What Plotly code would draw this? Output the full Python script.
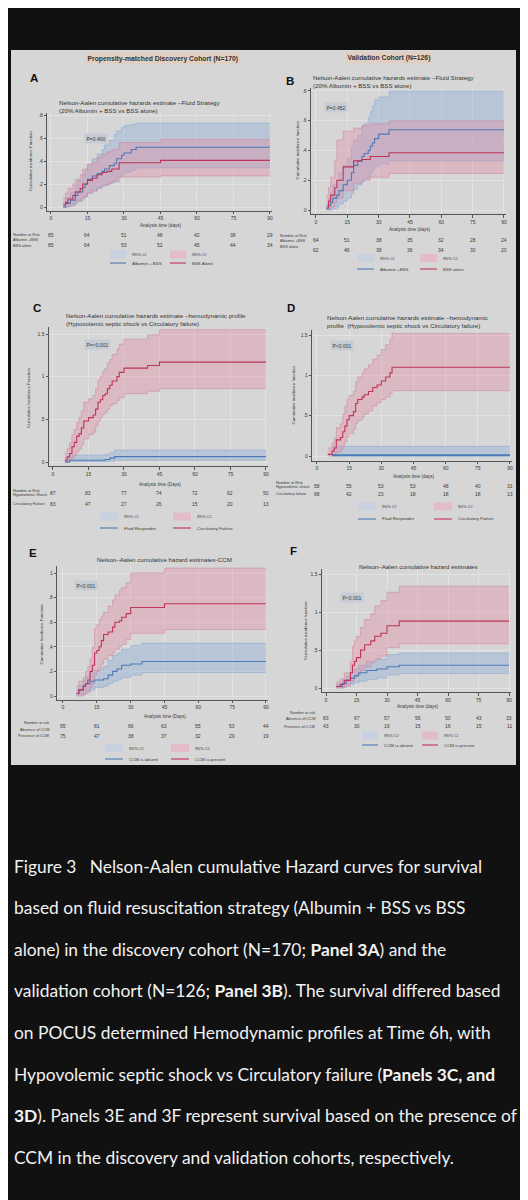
import plotly.graph_objects as go

# =============================================================================
# Canvas & style
# =============================================================================
W, H = 528, 1200
BG = "#111111"
PANEL = "#d6d6d6"
BLUE = "#4a7bb7"
RED = "#c0335a"
BLUE_BAND = "rgba(140,172,215,0.40)"
RED_BAND = "rgba(225,140,165,0.38)"
BLUE_EDGE = "rgba(120,160,210,0.75)"
RED_EDGE = "rgba(205,120,145,0.75)"
TXT = "#3a3a3a"
SANS = "Liberation Sans"

TIME_TICKS = [0, 15, 30, 45, 60, 75, 90]

# =============================================================================
# Data
# =============================================================================
# Panel A - discovery cohort, fluid strategy
a_blue_t = [5, 6, 8, 10, 11, 13, 14, 15, 17, 19, 21, 22, 24, 26, 27, 29, 30, 33, 35, 90]
a_blue_est = [0.0, 0.03, 0.06, 0.1, 0.13, 0.17, 0.2, 0.24, 0.27, 0.29, 0.31, 0.33, 0.36, 0.38, 0.42, 0.45, 0.47, 0.5, 0.52, 0.52]
a_blue_lo = [0.0, 0.0, 0.01, 0.03, 0.05, 0.07, 0.09, 0.12, 0.14, 0.16, 0.18, 0.19, 0.21, 0.23, 0.26, 0.28, 0.3, 0.32, 0.34, 0.34]
a_blue_hi = [0.04, 0.08, 0.13, 0.19, 0.23, 0.28, 0.32, 0.37, 0.42, 0.46, 0.5, 0.54, 0.58, 0.63, 0.66, 0.69, 0.71, 0.72, 0.73, 0.73]
a_red_t = [5, 6, 7, 9, 10, 12, 13, 15, 17, 19, 21, 23, 25, 28, 45, 90]
a_red_est = [0.02, 0.04, 0.07, 0.1, 0.13, 0.16, 0.2, 0.23, 0.25, 0.28, 0.3, 0.31, 0.33, 0.385, 0.405, 0.405]
a_red_lo = [0.0, 0.0, 0.01, 0.03, 0.05, 0.07, 0.09, 0.12, 0.14, 0.17, 0.19, 0.2, 0.22, 0.26, 0.27, 0.27]
a_red_hi = [0.08, 0.12, 0.16, 0.2, 0.24, 0.28, 0.33, 0.37, 0.39, 0.43, 0.46, 0.48, 0.5, 0.56, 0.59, 0.59]
a_risk_1 = [85, 64, 51, 48, 42, 38, 29]
a_risk_2 = [85, 64, 53, 52, 45, 44, 34]

# Panel B - validation cohort, fluid strategy
b_blue_t = [5, 6, 7, 8, 10, 11, 13, 15, 17, 18, 20, 22, 23, 25, 26, 27, 28, 30, 35, 90]
b_blue_est = [0.01, 0.03, 0.05, 0.08, 0.1, 0.13, 0.17, 0.2, 0.25, 0.3, 0.33, 0.36, 0.38, 0.4, 0.43, 0.45, 0.48, 0.51, 0.54, 0.54]
b_blue_lo = [0, 0, 0, 0.01, 0.02, 0.04, 0.06, 0.08, 0.11, 0.14, 0.17, 0.19, 0.21, 0.22, 0.25, 0.27, 0.29, 0.31, 0.33, 0.33]
b_blue_hi = [0.04, 0.08, 0.12, 0.17, 0.2, 0.25, 0.3, 0.35, 0.42, 0.47, 0.5, 0.56, 0.58, 0.62, 0.66, 0.7, 0.74, 0.76, 0.8, 0.8]
b_red_t = [5, 6, 7, 9, 10, 13, 18, 22, 26, 35, 90]
b_red_est = [0.02, 0.06, 0.1, 0.15, 0.2, 0.29, 0.33, 0.34, 0.36, 0.385, 0.385]
b_red_lo = [0, 0, 0.02, 0.05, 0.08, 0.13, 0.18, 0.2, 0.22, 0.245, 0.245]
b_red_hi = [0.1, 0.15, 0.22, 0.33, 0.47, 0.53, 0.55, 0.57, 0.58, 0.6, 0.6]
b_risk_1 = [64, 51, 38, 35, 32, 28, 24]
b_risk_2 = [62, 46, 38, 36, 34, 30, 20]

# Panel C - discovery cohort, hemodynamic profile
c_blue_t = [5, 7, 22, 24, 26, 90]
c_blue_est = [0.0, 0.02, 0.03, 0.045, 0.063, 0.063]
c_blue_lo = [0, 0.003, 0.005, 0.01, 0.02, 0.02]
c_blue_hi = [0.05, 0.08, 0.09, 0.11, 0.14, 0.14]
c_red_t = [5, 6, 7, 8, 9, 10, 11, 12, 13, 15, 17, 18, 19, 20, 21, 22, 23, 24, 25, 27, 28, 30, 40, 45, 90]
c_red_est = [0.02, 0.06, 0.1, 0.18, 0.23, 0.3, 0.33, 0.4, 0.48, 0.52, 0.55, 0.62, 0.7, 0.73, 0.78, 0.8, 0.86, 0.9, 0.95, 1.0, 1.05, 1.1, 1.13, 1.17, 1.17]
c_red_lo = [0, 0, 0.02, 0.05, 0.08, 0.12, 0.15, 0.2, 0.27, 0.32, 0.35, 0.42, 0.48, 0.52, 0.56, 0.58, 0.62, 0.66, 0.68, 0.72, 0.75, 0.8, 0.83, 0.86, 0.86]
c_red_hi = [0.1, 0.16, 0.22, 0.32, 0.38, 0.46, 0.52, 0.6, 0.7, 0.74, 0.78, 0.86, 0.96, 1.0, 1.06, 1.1, 1.16, 1.2, 1.26, 1.32, 1.38, 1.44, 1.49, 1.55, 1.55]
c_risk_1 = [87, 83, 77, 74, 72, 62, 50]
c_risk_2 = [83, 47, 27, 26, 15, 20, 13]

# Panel D - validation cohort, hemodynamic profile
d_blue_t = [7, 90]
d_blue_est = [0.01, 0.01]
d_blue_lo = [0.0, 0.0]
d_blue_hi = [0.12, 0.12]
d_red_t = [5, 7, 8, 9, 11, 12, 13, 14, 15, 17, 18, 19, 21, 22, 24, 26, 28, 30, 32, 34, 35, 90]
d_red_est = [0.02, 0.06, 0.1, 0.2, 0.23, 0.3, 0.37, 0.45, 0.5, 0.55, 0.65, 0.7, 0.73, 0.76, 0.8, 0.85, 0.88, 0.93, 0.98, 1.03, 1.1, 1.1]
d_red_lo = [0, 0, 0.02, 0.05, 0.08, 0.13, 0.18, 0.24, 0.28, 0.33, 0.4, 0.44, 0.48, 0.52, 0.56, 0.62, 0.66, 0.7, 0.73, 0.77, 0.81, 0.81]
d_red_hi = [0.1, 0.16, 0.22, 0.35, 0.4, 0.52, 0.62, 0.7, 0.75, 0.8, 0.92, 0.98, 1.03, 1.08, 1.13, 1.2, 1.25, 1.32, 1.38, 1.45, 1.52, 1.52]
d_risk_1 = [58, 55, 53, 53, 48, 40, 31]
d_risk_2 = [68, 42, 23, 18, 18, 18, 13]

# Panel E - discovery cohort, CCM
e_blue_t = [6, 7, 9, 10, 12, 14, 18, 20, 22, 24, 26, 30, 35, 90]
e_blue_est = [0.02, 0.05, 0.08, 0.1, 0.12, 0.13, 0.14, 0.17, 0.2, 0.22, 0.25, 0.26, 0.28, 0.28]
e_blue_lo = [0, 0.01, 0.02, 0.04, 0.05, 0.07, 0.08, 0.1, 0.12, 0.13, 0.15, 0.17, 0.19, 0.19]
e_blue_hi = [0.05, 0.09, 0.13, 0.16, 0.19, 0.21, 0.24, 0.29, 0.33, 0.35, 0.38, 0.41, 0.43, 0.43]
e_red_t = [6, 7, 9, 10, 11, 12, 13, 14, 15, 16, 17, 18, 20, 22, 23, 25, 26, 28, 30, 45, 90]
e_red_est = [0.02, 0.05, 0.08, 0.1, 0.13, 0.2, 0.25, 0.35, 0.37, 0.4, 0.45, 0.5, 0.52, 0.56, 0.6, 0.61, 0.64, 0.67, 0.72, 0.75, 0.75]
e_red_lo = [0, 0, 0.01, 0.02, 0.03, 0.07, 0.1, 0.17, 0.2, 0.22, 0.26, 0.3, 0.33, 0.35, 0.38, 0.4, 0.42, 0.46, 0.51, 0.54, 0.54]
e_red_hi = [0.08, 0.12, 0.15, 0.2, 0.24, 0.3, 0.4, 0.55, 0.58, 0.62, 0.65, 0.68, 0.73, 0.78, 0.82, 0.86, 0.88, 0.92, 1.0, 1.04, 1.04]
e_risk_1 = [95, 81, 66, 63, 55, 53, 44]
e_risk_2 = [75, 47, 38, 37, 32, 29, 19]

# Panel F - validation cohort, CCM
f_blue_t = [5, 8, 10, 12, 14, 16, 20, 25, 30, 36, 90]
f_blue_est = [0.02, 0.06, 0.1, 0.13, 0.16, 0.2, 0.23, 0.25, 0.28, 0.3, 0.3]
f_blue_lo = [0, 0.01, 0.04, 0.05, 0.07, 0.09, 0.11, 0.13, 0.17, 0.19, 0.19]
f_blue_hi = [0.05, 0.1, 0.15, 0.2, 0.25, 0.3, 0.35, 0.38, 0.44, 0.46, 0.46]
f_red_t = [5, 7, 9, 12, 13, 14, 15, 17, 19, 22, 24, 27, 30, 36, 90]
f_red_est = [0.02, 0.05, 0.1, 0.2, 0.3, 0.35, 0.4, 0.5, 0.57, 0.62, 0.68, 0.72, 0.82, 0.88, 0.88]
f_red_lo = [0, 0, 0.02, 0.07, 0.1, 0.13, 0.17, 0.23, 0.28, 0.33, 0.38, 0.42, 0.53, 0.58, 0.58]
f_red_hi = [0.08, 0.12, 0.2, 0.35, 0.55, 0.62, 0.68, 0.8, 0.9, 0.98, 1.08, 1.15, 1.26, 1.34, 1.34]
f_risk_1 = [83, 67, 57, 56, 50, 43, 33]
f_risk_2 = [43, 30, 19, 15, 16, 15, 11]

caption_lines = [
    "Figure 3   Nelson-Aalen cumulative Hazard curves for survival",
    "based on fluid resuscitation strategy (Albumin + BSS vs BSS",
    "alone) in the discovery cohort (N=170; <b>Panel 3A</b>) and the",
    "validation cohort (N=126; <b>Panel 3B</b>). The survival differed based",
    "on POCUS determined Hemodynamic profiles at Time 6h, with",
    "Hypovolemic septic shock vs Circulatory failure (<b>Panels 3C, and</b>",
    "<b>3D</b>). Panels 3E and 3F represent survival based on the presence of",
    "CCM in the discovery and validation cohorts, respectively.",
]

# =============================================================================
# Panel layout (pixel geometry of the screenshot)
# =============================================================================
panels = [
    dict(letter="A", blue=(a_blue_t, a_blue_est, a_blue_lo, a_blue_hi), red=(a_red_t, a_red_est, a_red_lo, a_red_hi),
         risk=(a_risk_1, a_risk_2), x0=43, x90=262, y0=199, ytop=107, vtop=0.8, xr=[-1.6, 91], yr=[-0.035, 0.82],
         yt=[0, .2, .4, .6, .8], ytl=["0", ".2", ".4", ".6", ".8"],
         lpos=(26, 70), title=["Nelson-Aalen cumulative hazards estimate \u2013Fluid Strategy", "(20% Albumin + BSS vs BSS alone)"],
         tpos=(49, 94, 9), tcenter=False, ytitle="Cumulative incidence Function", ytx=23,
         xtitle="Analysis time (days)", xty=218, ticky=211,
         rlab=["Number at Risk", "Albumin +BSS", "BSS alone"], rlx=3, rly=[226, 231, 237], rny=[226.7, 236.7],
         pval="P=0.400", ppos=(88, 130.5),
         leg=dict(x1=102, x2=162, w=16, yb=246.5, yl=255, ci="95% CI", n1="Albumin + BSS", n2="BSS Alone")),
    dict(letter="B", blue=(b_blue_t, b_blue_est, b_blue_lo, b_blue_hi), red=(b_red_t, b_red_est, b_red_lo, b_red_hi),
         risk=(b_risk_1, b_risk_2), x0=308, x90=496, y0=202, ytop=83, vtop=0.8, xr=[-2.4, 91], yr=[-0.03, 0.82],
         yt=[0, .2, .4, .6, .8], ytl=["0", ".2", ".4", ".6", ".8"],
         lpos=(282, 73), title=["Nelson-Aalen cumulative hazards estimate \u2013Fluid Strategy", "(20% Albumin + BSS vs BSS alone)"],
         tpos=(303, 69, 9), tcenter=False, ytitle="Cumulative incidence function", ytx=289,
         xtitle="Analysis time (days)", xty=221, ticky=213,
         rlab=["Number at Risk", "Albumin +BSS", "BSS alone"], rlx=270, rly=[227, 232, 238.5], rny=[231.7, 241.7],
         pval="P=0.452", ppos=(327.5, 99.5),
         leg=dict(x1=349, x2=412, w=17, yb=250, yl=261, ci="95% CI", n1="Albumin +BSS", n2="BSS alone")),
    dict(letter="C", blue=(c_blue_t, c_blue_est, c_blue_lo, c_blue_hi), red=(c_red_t, c_red_est, c_red_lo, c_red_hi),
         risk=(c_risk_1, c_risk_2), x0=45, x90=258, y0=454, ytop=326, vtop=1.5, xr=[-1.7, 91], yr=[-0.05, 1.58],
         yt=[0, .5, 1, 1.5], ytl=["0", ".5", "1", "1.5"],
         lpos=(29, 300), title=["Nelson-Aalen cumulative hazards estimate \u2013hemodynamic profile", "(Hypovolemic septic shock vs Circulatory failure)"],
         tpos=(56, 307, 9), tcenter=False, ytitle="Cumulative Incidence Function", ytx=21,
         xtitle="Analysis time (Days)", xty=476, ticky=468,
         rlab=["Number at Risk", "Hypovolemic Shock", "Circulatory Failure"], rlx=3, rly=[482.3, 486.7, 495.7], rny=[485, 495.7],
         pval="P=<0.001", ppos=(89, 337),
         leg=dict(x1=92, x2=165, w=18, yb=508.5, yl=520, ci="95% CI", n1="Fluid Responder", n2="Circulatory Failure")),
    dict(letter="D", blue=(d_blue_t, d_blue_est, d_blue_lo, d_blue_hi), red=(d_red_t, d_red_est, d_red_lo, d_red_hi),
         risk=(d_risk_1, d_risk_2), x0=309, x90=502, y0=448, ytop=327, vtop=1.5, xr=[-2.3, 91], yr=[-0.058, 1.56],
         yt=[0, .5, 1, 1.5], ytl=["0", ".5", "1", "1.5"],
         lpos=(283, 300), title=["Nelson-Aalen cumulative hazards estimate \u2013hemodynamic", "profile  (Hypovolemic septic shock vs Circulatory failure)"],
         tpos=(317, 309, 8.5), tcenter=False, ytitle="Cumulative incidence function", ytx=285,
         xtitle="Analysis time (days)", xty=468, ticky=459,
         rlab=["Number at Risk", "Hypovolemic shock", "Circulatory failure"], rlx=266, rly=[474.3, 478, 485.7], rny=[477.7, 485.7],
         pval="P<0.001", ppos=(334, 337.5),
         leg=dict(x1=350, x2=426, w=18, yb=498.5, yl=511, ci="90% CI", n1="Fluid Responder", n2="Circulatory Failure")),
    dict(letter="E", blue=(e_blue_t, e_blue_est, e_blue_lo, e_blue_hi), red=(e_red_t, e_red_est, e_red_lo, e_red_hi),
         risk=(e_risk_1, e_risk_2), x0=55, x90=258, y0=688, ytop=565, vtop=1.0, xr=[-2.6, 91], yr=[-0.033, 1.06],
         yt=[0, .2, .4, .6, .8, 1], ytl=["0", ".2", ".4", ".6", ".8", "1"],
         lpos=(25, 545), title=["Nelson\u2013Aalen cumulative hazard estimates-CCM"],
         tpos=(156, 551, 9), tcenter=True, ytitle="Cumulative Incidence Function", ytx=33,
         xtitle="Analysis time (Days)", xty=708, ticky=700,
         rlab=["Number at risk", "Absence of CCM", "Presence of CCM"], rlx=43, rly=[714, 721.5, 727.7], rny=[717.7, 727.7],
         pval="P<0.001", ppos=(77.5, 577.5),
         leg=dict(x1=97, x2=163, w=18, yb=740, yl=751, ci="95% CI", n1="CCM is absent", n2="CCM is present")),
    dict(letter="F", blue=(f_blue_t, f_blue_est, f_blue_lo, f_blue_hi), red=(f_red_t, f_red_est, f_red_lo, f_red_hi),
         risk=(f_risk_1, f_risk_2), x0=318, x90=501, y0=680, ytop=566, vtop=1.5, xr=[-2.0, 91], yr=[-0.057, 1.56],
         yt=[0, .5, 1, 1.5], ytl=["0", ".5", "1", "1.5"],
         lpos=(285, 543), title=["Nelson\u2013Aalen cumulative hazard estimates"],
         tpos=(410, 558, 9), tcenter=True, ytitle="Cumulative incidence function", ytx=297,
         xtitle="Analysis time (days)", xty=698, ticky=692,
         rlab=["Number at risk", "Absence of CCM", "Presence of CCM"], rlx=309, rly=[704, 710, 718], rny=[710, 718],
         pval="P<0.001", ppos=(343.5, 589),
         leg=dict(x1=354, x2=414, w=16, yb=727.5, yl=737, ci="95% CI", n1="CCM is absent", n2="CCM is present")),
]


def fx(p):
    return p / W


def fy(p):
    return 1 - p / H


def note(x, y, s, size=5, color=TXT, xanchor="left", yanchor="middle", angle=0, family=SANS, **kw):
    return dict(x=x, y=y, xref=kw.pop("xref", "paper"), yref=kw.pop("yref", "paper"), text=s, showarrow=False,
                xanchor=xanchor, yanchor=yanchor, textangle=angle,
                font=dict(size=size, color=color, family=family), **kw)


fig = go.Figure()
shapes = []
annotations = []
layout_axes = {}

# grey figure background
shapes.append(dict(type="rect", xref="paper", yref="paper", x0=fx(3), x1=fx(508), y0=fy(757), y1=fy(42),
                   fillcolor=PANEL, line=dict(width=0), layer="below"))

# cohort headers
annotations.append(note(fx(155), fy(51), "<b>Propensity-matched Discovery Cohort (N=170)</b>", size=6.8,
                        color="#333", xanchor="center", bgcolor="#e2cfc3", borderpad=1.5))
annotations.append(note(fx(381), fy(50), "<b>Validation Cohort (N=126)</b>", size=6.8,
                        color="#333", xanchor="center", bgcolor="#e2cfc3", borderpad=1.5))

for i, p in enumerate(panels, start=1):
    xa = "x" if i == 1 else f"x{i}"
    ya = "y" if i == 1 else f"y{i}"
    sx = (p["x90"] - p["x0"]) / 90.0
    sy = (p["y0"] - p["ytop"]) / p["vtop"]
    xdom = [fx(p["x0"] + p["xr"][0] * sx), fx(p["x0"] + p["xr"][1] * sx)]
    ydom = [fy(p["y0"] - p["yr"][0] * sy), fy(p["y0"] - p["yr"][1] * sy)]
    axis_common = dict(showline=True, linecolor="#555", linewidth=0.8, ticks="outside", ticklen=2.5,
                       tickcolor="#555", tickwidth=0.6, showgrid=True, gridcolor="#e2e2e2", gridwidth=0.6,
                       zeroline=False, tickfont=dict(size=5, color=TXT, family=SANS))
    layout_axes["xaxis" if i == 1 else f"xaxis{i}"] = dict(
        domain=xdom, range=p["xr"], anchor=ya, tickvals=TIME_TICKS, **axis_common)
    layout_axes["yaxis" if i == 1 else f"yaxis{i}"] = dict(
        domain=ydom, range=p["yr"], anchor=xa, tickvals=p["yt"], ticktext=p["ytl"], **axis_common)

    # confidence bands, then estimates
    for grp, band, edge in (("blue", BLUE_BAND, BLUE_EDGE), ("red", RED_BAND, RED_EDGE)):
        t, est, lo, hi = p[grp]
        fig.add_trace(go.Scatter(x=t, y=lo, mode="lines", line=dict(color=edge, width=0.6, shape="hv"),
                                 xaxis=xa, yaxis=ya, showlegend=False, hoverinfo="skip"))
        fig.add_trace(go.Scatter(x=t, y=hi, mode="lines", line=dict(color=edge, width=0.6, shape="hv"),
                                 fill="tonexty", fillcolor=band,
                                 xaxis=xa, yaxis=ya, showlegend=False, hoverinfo="skip"))
    for grp, col in (("blue", BLUE), ("red", RED)):
        t, est, lo, hi = p[grp]
        lw = 2.0 if p["letter"] == "D" and grp == "blue" else 1.1
        fig.add_trace(go.Scatter(x=t, y=est, mode="lines", line=dict(color=col, width=lw, shape="hv"),
                                 xaxis=xa, yaxis=ya, showlegend=False))

    # panel letter
    annotations.append(note(fx(p["lpos"][0]), fy(p["lpos"][1]), f"<b>{p['letter']}</b>", size=11.5,
                            color="#111", xanchor="center", family="Liberation Sans"))
    # title lines
    tx, ty, dy = p["tpos"]
    for k, line in enumerate(p["title"]):
        annotations.append(note(fx(tx), fy(ty + k * dy), line, size=6.2, color="#333",
                                xanchor="center" if p["tcenter"] else "left"))
    # axis titles
    annotations.append(note(fx(p["ytx"]), fy((p["y0"] + p["ytop"]) / 2), p["ytitle"], size=4.4,
                            xanchor="center", angle=-90))
    annotations.append(note(fx((p["x0"] + p["x90"]) / 2), fy(p["xty"]), p["xtitle"], size=4.6, xanchor="center"))

    # risk table
    for k, lab in enumerate(p["rlab"]):
        annotations.append(note(fx(p["rlx"]), fy(p["rly"][k]), lab, size=3.9,
                                xanchor="right" if p["letter"] in ("E", "F") else "left"))
    for row, yy in zip(p["risk"], p["rny"]):
        for tv, n in zip(TIME_TICKS, row):
            annotations.append(note(tv, fy(yy), str(n), size=5, xanchor="center", xref=xa))

    # p-value box
    annotations.append(note(fx(p["ppos"][0]), fy(p["ppos"][1]), p["pval"], size=5, xanchor="center",
                            bgcolor="#c5ccd6", borderpad=1.5))

    # legend (drawn by hand, one per panel)
    lg = p["leg"]
    for xs, fill in ((lg["x1"], "#c7d1e0"), (lg["x2"], "#e3bcc7")):
        shapes.append(dict(type="rect", xref="paper", yref="paper", x0=fx(xs), x1=fx(xs + lg["w"]),
                           y0=fy(lg["yb"] + 4), y1=fy(lg["yb"] - 4), fillcolor=fill, line=dict(width=0)))
        annotations.append(note(fx(xs + lg["w"] + 4), fy(lg["yb"]), lg["ci"], size=4.4))
    for xs, col, lab in ((lg["x1"], BLUE, lg["n1"]), (lg["x2"], RED, lg["n2"])):
        shapes.append(dict(type="line", xref="paper", yref="paper", x0=fx(xs), x1=fx(xs + lg["w"]),
                           y0=fy(lg["yl"]), y1=fy(lg["yl"]), line=dict(color=col, width=1.1)))
        annotations.append(note(fx(xs + lg["w"] + 4), fy(lg["yl"]), lab, size=4.4))

# caption under the figure (sized so the longest line still fits the width)
for k, line in enumerate(caption_lines):
    annotations.append(note(fx(4), fy(858 + k * 41.6), line, size=17.4, color="#f2f2f2", family="Lato"))

# scrollbar of the viewer
shapes.append(dict(type="rect", xref="paper", yref="paper", x0=fx(512), x1=fx(515), y0=fy(1067), y1=fy(948),
                   fillcolor="#8a8a8a", line=dict(width=0)))

fig.update_layout(
    width=W, height=H,
    margin=dict(l=0, r=0, t=0, b=0),
    paper_bgcolor=BG, plot_bgcolor="rgba(0,0,0,0)",
    showlegend=False,
    shapes=shapes, annotations=annotations,
    **layout_axes,
)

fig.write_html("out.html")
